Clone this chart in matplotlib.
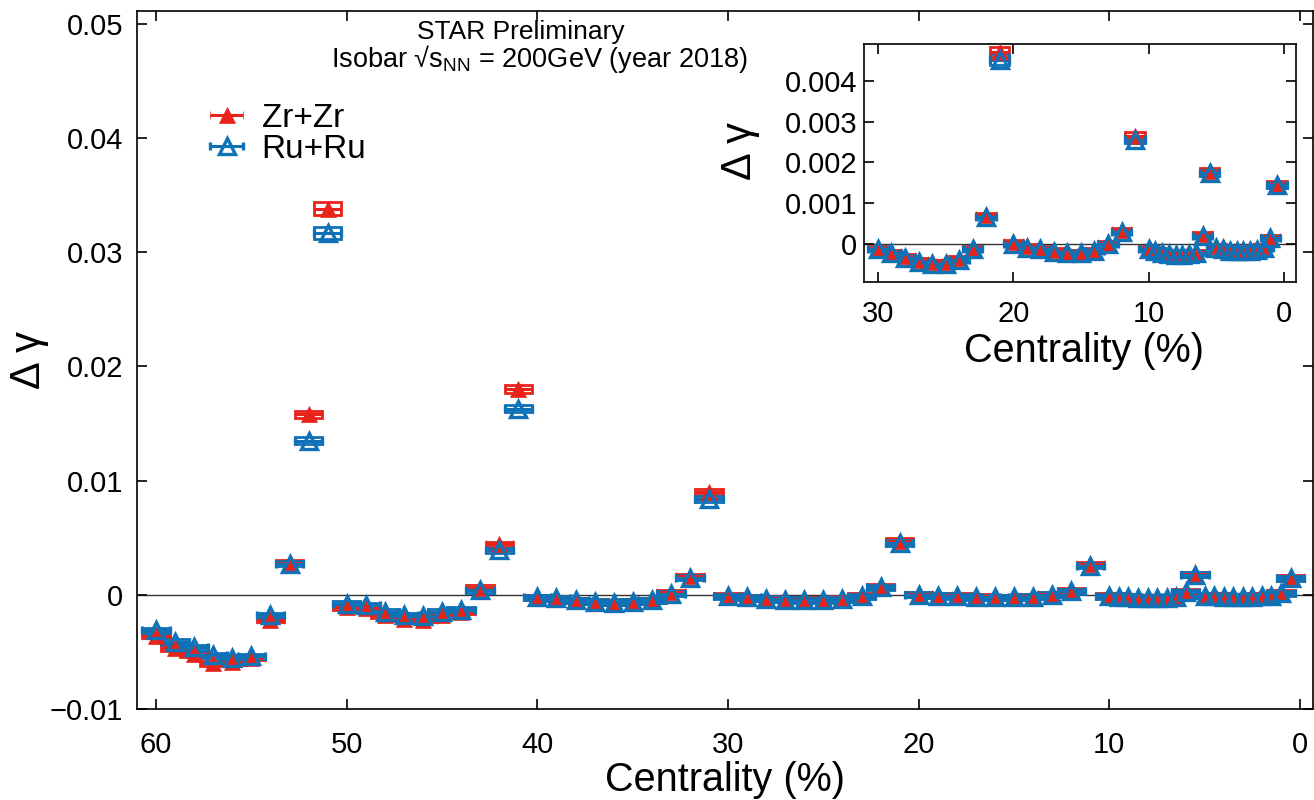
import numpy as np
import matplotlib.pyplot as plt
from matplotlib.patches import Rectangle

plt.rcParams['font.family'] = ['Liberation Sans', 'DejaVu Sans']
plt.rcParams['mathtext.fontset'] = 'custom'
plt.rcParams['mathtext.rm'] = 'Liberation Sans'

# centrality bin centres (%)
cent = [60, 59, 58, 57, 56, 55, 54, 53, 52, 51,
        50, 49, 48, 47, 46, 45, 44, 43, 42, 41,
        40, 39, 38, 37, 36, 35, 34, 33, 32, 31,
        30, 29, 28, 27, 26, 25, 24, 23, 22, 21,
        20, 19, 18, 17, 16, 15, 14, 13, 12, 11,
        10, 9.5, 9, 8.5, 8, 7.5, 7, 6.5, 6, 5.5,
        5, 4.5, 4, 3.5, 3, 2.5, 2, 1.5, 1, 0.5]

zr = [-0.0036, -0.0047, -0.0052, -0.0060, -0.0059, -0.0055, -0.0022, 0.0028, 0.0158, 0.0338,
      -0.0011, -0.0012, -0.0018, -0.0021, -0.0022, -0.0018, -0.0015, 0.0006, 0.0044, 0.0180,
      -0.0002, -0.0003, -0.0005, -0.0006, -0.0007, -0.0006, -0.0005, 0.0002, 0.0016, 0.0090,
      -0.0001, -0.0002, -0.0003, -0.0004, -0.00045, -0.00045, -0.00035, -0.0001, 0.0007, 0.0047,
      0.00005, -0.00005, -0.0001, -0.00015, -0.0002, -0.0002, -0.00015, 0.00003, 0.00035, 0.00265,
      -0.0001, -0.00015, -0.0002, -0.00022, -0.00025, -0.00025, -0.00022, -0.0002, 0.00025, 0.0018,
      -0.00005, -0.0001, -0.00012, -0.00015, -0.00015, -0.00015, -0.0001, -0.00005, 0.00018, 0.00148]

ru = [-0.0031, -0.0041, -0.0046, -0.0053, -0.0055, -0.0054, -0.0018, 0.0027, 0.0135, 0.0317,
      -0.0008, -0.0009, -0.0015, -0.0018, -0.0019, -0.0015, -0.0013, 0.0004, 0.0039, 0.0163,
      -0.0002, -0.0003, -0.0005, -0.0006, -0.0007, -0.0006, -0.0005, 0.0001, 0.0015, 0.0084,
      -0.00012, -0.00022, -0.00033, -0.00043, -0.0005, -0.0005, -0.0004, -0.00012, 0.00066, 0.00452,
      0.0, -0.0001, -0.00013, -0.0002, -0.00022, -0.00022, -0.00018, 0.0, 0.0003, 0.00256,
      -0.00012, -0.00018, -0.00022, -0.00025, -0.00028, -0.00028, -0.00025, -0.00022, 0.0002, 0.00174,
      -0.0001, -0.00013, -0.00016, -0.00018, -0.00018, -0.00018, -0.00014, -0.0001, 0.00014, 0.00144]

main_xticks = [0, 10, 20, 30, 40, 50, 60]
main_yticks = [-0.01, 0, 0.01, 0.02, 0.03, 0.04, 0.05]
main_ylabels = ['\u22120.01', '0', '0.01', '0.02', '0.03', '0.04', '0.05']
ins_xticks = [0, 10, 20, 30]
ins_yticks = [0, 0.001, 0.002, 0.003, 0.004]
ins_ylabels = ['0', '0.001', '0.002', '0.003', '0.004']

RED = '#e8231a'
BLUE = '#0f71b6'


def draw_series(ax, x, y, color, filled, hmin, hfrac, label=None):
    x = np.asarray(x)
    y = np.asarray(y)
    for xi, yi in zip(x, y):
        h = np.hypot(hmin, hfrac * yi)
        ax.add_patch(Rectangle((xi - 0.72, yi - h), 1.44, 2 * h, fill=False,
                               ec=color, lw=2, zorder=3))
    eb = ax.errorbar(x, y, xerr=0.72, fmt='^', color=color, ms=11,
                     mfc=color if filled else 'none', mec=color,
                     mew=0.5 if filled else 2.4, elinewidth=2.2,
                     capsize=3, capthick=2, zorder=4, label=label)
    return eb


def style_axes(ax, xticks, yticks, ylabels, pad_x, pad_y):
    ax.set_xticks(xticks)
    ax.set_xticklabels([str(t) for t in xticks])
    ax.set_yticks(yticks)
    ax.set_yticklabels(ylabels)
    ax.tick_params(direction='in', length=7, width=1.2, top=True, right=True,
                   labelsize=21)
    ax.tick_params(axis='x', pad=pad_x)
    ax.tick_params(axis='y', pad=pad_y)
    for s in ax.spines.values():
        s.set_linewidth(1.2)
    ax.axhline(0, color='#333333', lw=1.0, zorder=1)


fig = plt.figure(figsize=(13.14, 8), dpi=100)

# main panel
ax = fig.add_axes([137 / 1314, 1 - 709 / 800, 1176 / 1314, 698 / 800])
h_zr = draw_series(ax, cent, zr, RED, True, 0.00022, 0.015, 'Zr+Zr')
h_ru = draw_series(ax, cent, ru, BLUE, False, 0.00022, 0.015, 'Ru+Ru')
ax.set_xlim(61, -0.68)
ax.set_ylim(-0.01, 0.0511)
style_axes(ax, main_xticks, main_yticks, main_ylabels, 16, 10)
ax.set_xlabel('Centrality (%)', fontsize=28.5)
ax.xaxis.set_label_coords(0.5, -0.075)
ax.set_ylabel('\u0394 \u03b3', fontsize=30)
ax.yaxis.set_label_coords(-0.075, 0.5)

ax.legend(handles=[h_zr, h_ru], loc='upper left',
          bbox_to_anchor=(210 / 1314, 1 - 103 / 800), bbox_transform=fig.transFigure,
          frameon=False, fontsize=24, handlelength=1.0, handletextpad=0.55,
          labelspacing=0.0, borderpad=0, borderaxespad=0)

fig.text(521 / 1314, 1 - 39 / 800, 'STAR Preliminary', ha='center', va='baseline',
         fontsize=19)
fig.text(539 / 1314, 1 - 67 / 800, 'Isobar \u221as$_{\\mathregular{NN}}$ = 200GeV (year 2018)',
         ha='center', va='baseline', fontsize=19.5)

# inset, most central bins
ins = fig.add_axes([864 / 1314, 1 - 282 / 800, 432 / 1314, 238 / 800])
sel = [i for i, c in enumerate(cent) if c <= 30]
draw_series(ins, [cent[i] for i in sel], [zr[i] for i in sel], RED, True, 0.00005, 0.025)
draw_series(ins, [cent[i] for i in sel], [ru[i] for i in sel], BLUE, False, 0.00005, 0.025)
ins.set_xlim(31.03, -0.89)
ins.set_ylim(-0.00093, 0.0049)
style_axes(ins, ins_xticks, ins_yticks, ins_ylabels, 13, 5)
ins.set_xlabel('Centrality (%)', fontsize=28.5)
ins.xaxis.set_label_coords(0.51, -0.21)
ins.set_ylabel('\u0394 \u03b3', fontsize=30)
ins.yaxis.set_label_coords(-0.24, 0.55)

fig.savefig('out.png', dpi=100)
